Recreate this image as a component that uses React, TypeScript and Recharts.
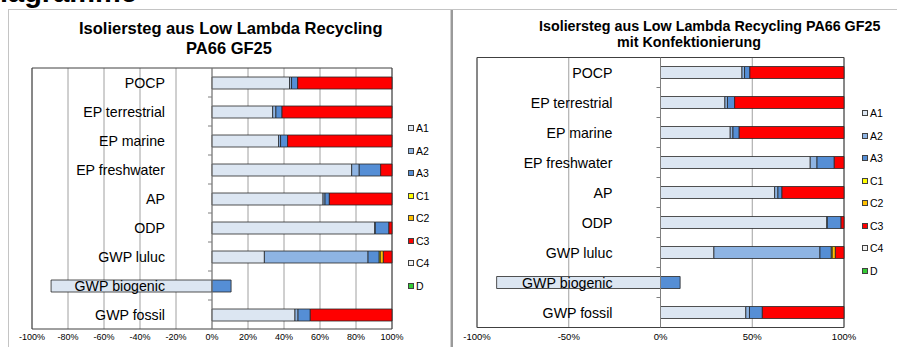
import React from 'react';
import { BarChart, Bar, XAxis, YAxis, CartesianGrid, ReferenceLine, ReferenceArea } from 'recharts';

const categories = ['POCP', 'EP terrestrial', 'EP marine', 'EP freshwater', 'AP', 'ODP', 'GWP luluc', 'GWP biogenic', 'GWP fossil'];

const seriesNames = ['A1', 'A2', 'A3', 'C1', 'C2', 'C3', 'C4', 'D'];
const seriesColors = ['#dce6f2', '#8eb4e3', '#558ed5', '#ffff00', '#ffc000', '#ff0000', '#f2f2f2', '#33cc33'];

// left chart: ohne Konfektionierung (shares in %)
const leftA1 = [43.1, 33.7, 37.0, 77.6, 61.7, 90.5, 29.1, -89.4, 46.1];
const leftA2 = [1.1, 1.8, 1.1, 4.2, 1.1, 0.2, 57.6, 0, 1.7];
const leftA3 = [3.4, 3.4, 3.9, 11.9, 2.4, 7.6, 6.2, 10.6, 6.8];
const leftC1 = [0, 0, 0, 0, 0, 0, 0.6, 0, 0];
const leftC2 = [0, 0, 0, 0, 0, 0, 1.7, 0, 0];
const leftC3 = [52.4, 61.1, 58.0, 6.3, 34.8, 1.7, 4.8, 0, 45.4];
const leftC4 = [0, 0, 0, 0, 0, 0, 0, 0, 0];
const leftD = [0, 0, 0, 0, 0, 0, 0, 0, 0];
const leftTicks = [-100, -80, -60, -40, -20, 0, 20, 40, 60, 80, 100];

// right chart: mit Konfektionierung
const rightA1 = [44.4, 35.1, 38.0, 81.6, 62.2, 90.7, 29.1, -89.3, 46.5];
const rightA2 = [1.4, 1.4, 1.5, 3.7, 1.8, 0.2, 57.8, 0, 2.0];
const rightA3 = [2.9, 3.9, 3.4, 9.4, 2.2, 7.5, 6.2, 10.7, 7.0];
const rightC1 = [0, 0, 0, 0, 0, 0, 0.5, 0, 0];
const rightC2 = [0, 0, 0, 0, 0, 0, 1.7, 0, 0];
const rightC3 = [51.3, 59.6, 57.1, 5.3, 33.8, 1.6, 4.7, 0, 44.5];
const rightC4 = [0, 0, 0, 0, 0, 0, 0, 0, 0];
const rightD = [0, 0, 0, 0, 0, 0, 0, 0, 0];
const rightTicks = [-100, -50, 0, 50, 100];

const buildRows = (cols: number[][]) =>
  categories.map((name, i) => {
    const row: any = { name };
    seriesNames.forEach((s, j) => { row[s] = cols[j][i]; });
    return row;
  });

const leftRows = buildRows([leftA1, leftA2, leftA3, leftC1, leftC2, leftC3, leftC4, leftD]);
const rightRows = buildRows([rightA1, rightA2, rightA3, rightC1, rightC2, rightC3, rightC4, rightD]);

const CategoryTick = (props: any) => {
  const { y, payload, index, zeroX, gap, fontSize, band } = props;
  return (
    <g>
      {index > 0 && (
        <line x1={zeroX - 4} x2={zeroX} y1={y - band / 2} y2={y - band / 2} stroke="#7f7f7f" />
      )}
      <text x={zeroX - gap} y={y} dy="0.36em" textAnchor="end" fontSize={fontSize} fill="#000">
        {payload.value}
      </text>
    </g>
  );
};

interface PanelProps {
  data: any[];
  ticks: number[];
  width: number;
  height: number;
  margin: { top: number; right: number; left: number; bottom: number };
  axisHeight: number;
  tickSize: number;
  tickFont: number;
  labelFont: number;
  labelGap: number;
}

const StackPanel: React.FC<PanelProps> = ({ data, ticks, width, height, margin, axisHeight, tickSize, tickFont, labelFont, labelGap }) => {
  const yAxisW = 2;
  const plotLeft = margin.left + yAxisW;
  const plotW = width - plotLeft - margin.right;
  const plotH = height - margin.top - margin.bottom - axisHeight;
  const zeroX = plotLeft + plotW / 2;
  const band = plotH / data.length;
  return (
    <BarChart width={width} height={height} data={data} layout="vertical" margin={margin} stackOffset="sign">
      <CartesianGrid horizontal={false} stroke="#a0a0a0" />
      <XAxis
        type="number"
        domain={[-100, 100]}
        ticks={ticks}
        interval={0}
        tickFormatter={(v: number) => `${v}%`}
        tick={{ fontSize: tickFont, fill: '#000' }}
        axisLine={false}
        tickLine={false}
        height={axisHeight}
        tickSize={tickSize}
        tickMargin={2}
      />
      <YAxis
        type="category"
        dataKey="name"
        width={yAxisW}
        interval={0}
        axisLine={false}
        tickLine={false}
        tick={(p: any) => <CategoryTick {...p} zeroX={zeroX} gap={labelGap} fontSize={labelFont} band={band} />}
      />
      {seriesNames.map((s, i) => (
        <Bar
          key={s}
          dataKey={s}
          stackId="a"
          fill={seriesColors[i]}
          stroke="#262626"
          strokeWidth={0.8}
          barSize={12}
          isAnimationActive={false}
        />
      ))}
      <ReferenceLine x={0} stroke="#7f7f7f" />
      <ReferenceArea x1={-100} x2={100} fill="none" stroke="#404040" strokeWidth={1} />
    </BarChart>
  );
};

const Legend: React.FC<{ left: number; top: number; fontSize: number }> = ({ left, top, fontSize }) => (
  <div style={{ position: 'absolute', left, top }}>
    {seriesNames.map((s, i) => (
      <div key={s} style={{ height: 22.5, display: 'flex', alignItems: 'center' }}>
        <span style={{ width: 4, height: 4, border: '1px solid #404040', background: seriesColors[i], display: 'inline-block' }} />
        <span style={{ marginLeft: 2, fontSize, color: '#000' }}>{s}</span>
      </div>
    ))}
  </div>
);

export default function App() {
  return (
    <div style={{ position: 'absolute', left: 0, top: 0, width: 897, height: 347, overflow: 'hidden', background: '#fff', fontFamily: '"Liberation Sans", Arial, sans-serif' }}>
      <div style={{ position: 'absolute', left: -21, top: -22, fontSize: 29, lineHeight: '29px', fontWeight: 'bold', whiteSpace: 'nowrap' }}>
        Diagramme
      </div>

      {/* panel frames */}
      <div style={{ position: 'absolute', left: 8, top: 9, width: 442, height: 340, borderTop: '1px solid #c4c4c4', borderLeft: '1px solid #c4c4c4' }} />
      <div style={{ position: 'absolute', left: 450, top: 9, width: 447, height: 340, borderTop: '1px solid #c4c4c4' }} />
      <div style={{ position: 'absolute', left: 450, top: 10, width: 1, height: 337, background: '#cfcfcf' }} />
      <div style={{ position: 'absolute', left: 451, top: 10, width: 2, height: 337, background: '#9a9a9a' }} />

      {/* left chart */}
      <div style={{ position: 'absolute', left: 79, top: 18, width: 300, textAlign: 'center', fontWeight: 'bold', fontSize: 16.5, lineHeight: '20px' }}>
        <div style={{ whiteSpace: 'nowrap' }}>Isoliersteg aus Low Lambda Recycling</div>
        <div>PA66 GF25</div>
      </div>
      <div style={{ position: 'absolute', left: 0, top: 0 }}>
        <StackPanel
          data={leftRows}
          ticks={leftTicks}
          width={450}
          height={347}
          margin={{ top: 68, right: 58, left: 30, bottom: 0 }}
          axisHeight={18}
          tickSize={3}
          tickFont={9}
          labelFont={14.2}
          labelGap={47}
        />
      </div>
      <Legend left={408} top={117} fontSize={10.5} />

      {/* right chart */}
      <div style={{ position: 'absolute', left: 539, top: 19, width: 300, textAlign: 'center', fontWeight: 'bold', fontSize: 14.3, lineHeight: '15.5px' }}>
        <div style={{ whiteSpace: 'nowrap' }}>Isoliersteg aus Low Lambda Recycling PA66 GF25</div>
        <div>mit Konfektionierung</div>
      </div>
      <div style={{ position: 'absolute', left: 452, top: 0 }}>
        <StackPanel
          data={rightRows}
          ticks={rightTicks}
          width={445}
          height={347}
          margin={{ top: 57.5, right: 53, left: 23, bottom: 0 }}
          axisHeight={19.5}
          tickSize={3.5}
          tickFont={9.5}
          labelFont={14.2}
          labelGap={48}
        />
      </div>
      <Legend left={862} top={102} fontSize={10.5} />
    </div>
  );
}
